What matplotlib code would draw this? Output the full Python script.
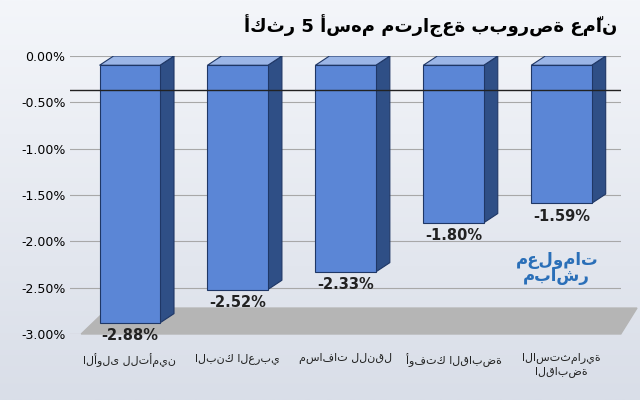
import numpy as np
import matplotlib.pyplot as plt
from matplotlib.patches import Polygon
from matplotlib.ticker import FuncFormatter

plt.rcParams['font.family'] = ['DejaVu Sans']

# البيانات
companies = ['الأولى للتأمين', 'البنك العربي', 'مسافات للنقل', 'أوفتك القابضة', 'الاستثمارية\nالقابضة']
changes = [-2.88, -2.52, -2.33, -1.80, -1.59]
title = 'أكثر 5 أسهم متراجعة ببورصة عمّان'

fig = plt.figure(figsize=(6.4, 4.0), dpi=100)
# خلفية متدرجة
bg = fig.add_axes([0, 0, 1, 1], zorder=-10)
grad = np.linspace(0, 1, 256).reshape(-1, 1)
bg.imshow(grad, aspect='auto', cmap=plt.matplotlib.colors.LinearSegmentedColormap.from_list(
    'bg', ['#f4f6fa', '#d9dee8']), extent=[0, 1, 0, 1])
bg.axis('off')

ax = fig.add_axes([0.11, 0.165, 0.86, 0.695])
ax.set_facecolor('none')
ax.set_xlim(-0.55, 4.55)
ax.set_ylim(-3.0, 0.0)
ax.set_yticks(np.arange(-3.0, 0.01, 0.5))
ax.yaxis.set_major_formatter(FuncFormatter(lambda v, p: f'{v:.2f}%'))
ax.grid(axis='y', color='#a8a8a8', lw=0.8)
ax.set_axisbelow(True)
for s in ax.spines.values():
    s.set_visible(False)
ax.tick_params(length=0, labelsize=9)

# أرضية رمادية
ax.add_patch(Polygon([[-0.45, -3.0], [4.55, -3.0], [4.7, -2.72], [-0.2, -2.72]],
                     closed=True, color='#b5b5b5', zorder=1, clip_on=False))

w = 0.56
dx, dy = 0.13, 0.1
for i, v in enumerate(changes):
    x0, x1 = i - w / 2, i + w / 2
    # الوجه الجانبي
    ax.add_patch(Polygon([[x1, -dy], [x1 + dx, 0], [x1 + dx, v + dy], [x1, v]],
                         closed=True, fc='#2f4f86', ec='#1f3766', lw=0.8, zorder=2))
    # الوجه العلوي
    ax.add_patch(Polygon([[x0, -dy], [x0 + dx, 0], [x1 + dx, 0], [x1, -dy]],
                         closed=True, fc='#9bb5e6', ec='#1f3766', lw=0.8, zorder=2))
    ax.bar(i, v + dy, bottom=-dy, width=w, color='#5b86d6', edgecolor='#1f3766', lw=0.8, zorder=3)
    ax.text(i, v - 0.06, f'{v:.2f}%', ha='center', va='top', fontsize=10.5,
            fontweight='bold', color='#222222', zorder=5)

ax.axhline(-0.37, color='#222222', lw=1, zorder=4)
ax.set_xticks(range(len(companies)))
ax.set_xticklabels(companies, fontsize=8, color='#222222')
ax.tick_params(axis='x', pad=14)

fig.text(0.965, 0.935, title, ha='right', va='center', fontsize=13, fontweight='bold')
fig.text(0.87, 0.33, 'معلومات\nمباشر', ha='center', va='center', fontsize=12,
         fontweight='bold', color='#2a6fb8', linespacing=0.9)

fig.savefig('out.png', dpi=100)
